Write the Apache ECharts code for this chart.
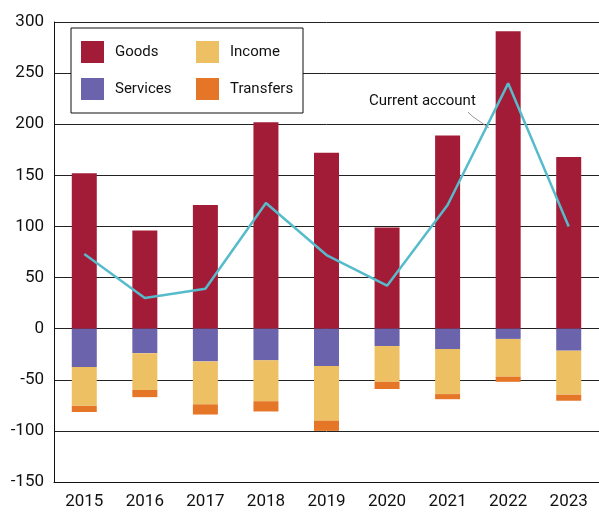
<!DOCTYPE html>
<html>
<head>
<meta charset="utf-8">
<script src="https://cdn.jsdelivr.net/npm/echarts@6/dist/echarts.min.js"></script>
<style>
html, body { margin: 0; padding: 0; background: #fff; }
#chart { width: 599px; height: 514px; }
</style>
</head>
<body>
<div id="chart"></div>
<script>
var years = ['2015', '2016', '2017', '2018', '2019', '2020', '2021', '2022', '2023'];
var goods = [152, 96, 121, 202, 172, 99, 189, 291, 168];
var services = [-37.5, -24, -32, -31, -36.5, -17, -20, -10, -21.5];
var income = [-38, -36, -42, -40, -53.5, -35, -44, -37, -43];
var transfers = [-6, -7, -10, -10, -10, -7, -5, -5, -6];
var currentAccount = [73, 30, 39, 123, 72, 42, 121, 240, 100];

var font = 'Roboto';

var myChart = echarts.init(document.getElementById('chart'));

function barSeries(name, data, color) {
	return {
		name: name,
		type: 'bar',
		stack: 'total',
		barWidth: 25,
		data: data,
		itemStyle: { color: color }
	};
}

var legendCommon = {
	orient: 'vertical',
	top: 41,
	padding: 0,
	itemWidth: 23,
	itemHeight: 22,
	itemGap: 15,
	icon: 'rect',
	selectedMode: false,
	textStyle: {
		fontFamily: font,
		fontSize: 15,
		color: '#111',
		padding: [0, 0, 0, 6]
	},
	z: 10
};

var option = {
	animation: false,
	grid: { left: 54, top: 22, width: 554, height: 460 },
	legend: [
		Object.assign({}, legendCommon, { left: 81, data: ['Goods', 'Services'] }),
		Object.assign({}, legendCommon, { left: 196, data: ['Income', 'Transfers'] })
	],
	graphic: [
		{
			type: 'rect',
			z: 5,
			shape: { x: 71, y: 28, width: 232, height: 85 },
			style: { fill: '#fff', stroke: '#111', lineWidth: 1 }
		},
		{
			type: 'text',
			z: 10,
			left: 369,
			top: 94,
			style: { text: 'Current account', fontFamily: font, fontSize: 15, fill: '#111' }
		},
		{
			type: 'polyline',
			z: 10,
			shape: { points: [[468, 112], [472, 116], [489, 128]] },
			style: { stroke: '#999', lineWidth: 1, fill: null }
		}
	],
	xAxis: {
		type: 'category',
		data: years,
		axisLine: { onZero: false, lineStyle: { color: '#111', width: 1 } },
		axisTick: { show: false },
		axisLabel: { fontFamily: font, fontSize: 17, color: '#111', margin: 11 }
	},
	yAxis: {
		type: 'value',
		min: -150,
		max: 300,
		interval: 50,
		axisLine: { show: true, lineStyle: { color: '#111', width: 1 } },
		axisTick: { show: false },
		axisLabel: { fontFamily: font, fontSize: 17, color: '#111', margin: 10 },
		splitLine: { lineStyle: { color: '#222', width: 1 } }
	},
	series: [
		barSeries('Goods', goods, '#a31c37'),
		barSeries('Services', services, '#6b63ab'),
		barSeries('Income', income, '#edc064'),
		barSeries('Transfers', transfers, '#e57627'),
		{
			name: 'Current account',
			type: 'line',
			data: currentAccount,
			symbol: 'none',
			lineStyle: { color: '#56bccb', width: 2.5 },
			z: 5
		}
	]
};

myChart.setOption(option);
</script>
</body>
</html>
